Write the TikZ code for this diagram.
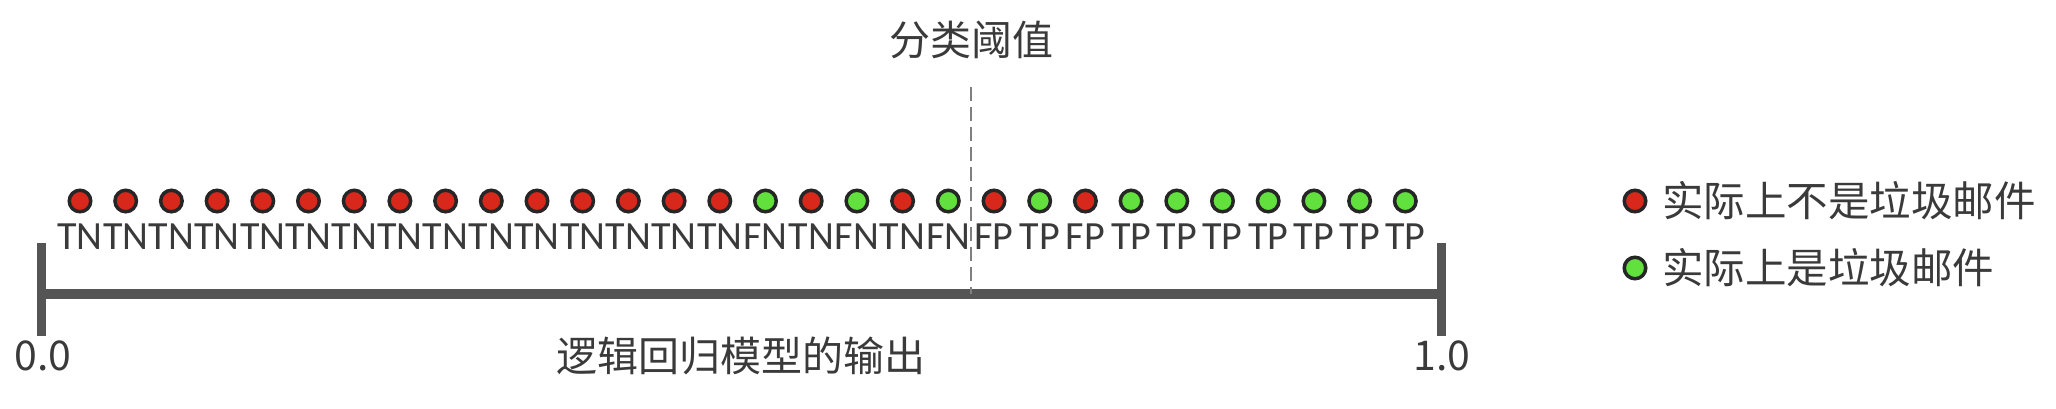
\documentclass[tikz,border=0pt]{standalone}
\usepackage{fontspec}
\setmainfont{Noto Sans CJK SC}
\newfontfamily\labfont{Carlito}
\definecolor{dotred}{HTML}{D8281C}
\definecolor{dotgreen}{HTML}{62E03E}
\definecolor{axisgray}{HTML}{555555}
\definecolor{txt}{HTML}{3A3A3A}
\begin{document}
\begin{tikzpicture}[x=1pt,y=-1pt,
  dot/.style={circle,draw=black!85,line width=3.5pt,minimum size=21.5pt,inner sep=0pt},
  rdot/.style={dot,fill=dotred},
  gdot/.style={dot,fill=dotgreen},
  lab/.style={font=\labfont\fontsize{40}{42}\selectfont,text=txt,inner sep=0pt},
  big/.style={font=\fontsize{41}{44}\selectfont,text=txt,inner sep=0pt},
  leg/.style={font=\fontsize{41.5}{44}\selectfont,text=txt,inner sep=0pt,anchor=west},
  axis/.style={draw=axisgray,line width=10pt},
  tick/.style={draw=axisgray,line width=9pt},
  thr/.style={draw=gray,line width=2pt,dash pattern=on 14pt off 6pt}]
\useasboundingbox (0,0) rectangle (2056,408);
% dots
\foreach \c [count=\i] in {rdot,rdot,rdot,rdot,rdot,rdot,rdot,rdot,rdot,rdot,rdot,rdot,rdot,rdot,rdot,gdot,rdot,gdot,rdot,gdot,rdot,gdot,rdot,gdot,gdot,gdot,gdot,gdot,gdot,gdot}
  \node[\c] (d\i) at ({80+(\i-1)*45.7},201) {};
% labels
\foreach \t [count=\i] in {TN,TN,TN,TN,TN,TN,TN,TN,TN,TN,TN,TN,TN,TN,TN,FN,TN,FN,TN,FN,FP,TP,FP,TP,TP,TP,TP,TP,TP,TP}
  \node[lab] (l\i) at ({80+(\i-1)*45.7},237) {\t};
% axis
\coordinate (a0) at (41,294);
\coordinate (a1) at (1441,294);
\coordinate (t0a) at (41,243);
\coordinate (t0b) at (41,336);
\coordinate (t1a) at (1441,243);
\coordinate (t1b) at (1441,336);
\draw[axis] (a0) -- (a1);
\draw[tick] (t0a) -- (t0b);
\draw[tick] (t1a) -- (t1b);
% threshold
\coordinate (th0) at (971,87);
\coordinate (th1) at (971,294);
\draw[thr] (th0) -- (th1);
\node[big] (title) at (971,40) {分类阈值};
\node[big] (xlabel) at (741,356) {逻辑回归模型的输出};
\node[big] (zero) at (43,356) {0.0};
\node[big] (one) at (1442,356) {1.0};
% legend
\node[rdot] (lr) at (1635,201) {};
\node[gdot] (lg) at (1635,268) {};
\node[leg] (lrt) at (1662,201) {实际上不是垃圾邮件};
\node[leg] (lgt) at (1662,268) {实际上是垃圾邮件};
\end{tikzpicture}
\end{document}
